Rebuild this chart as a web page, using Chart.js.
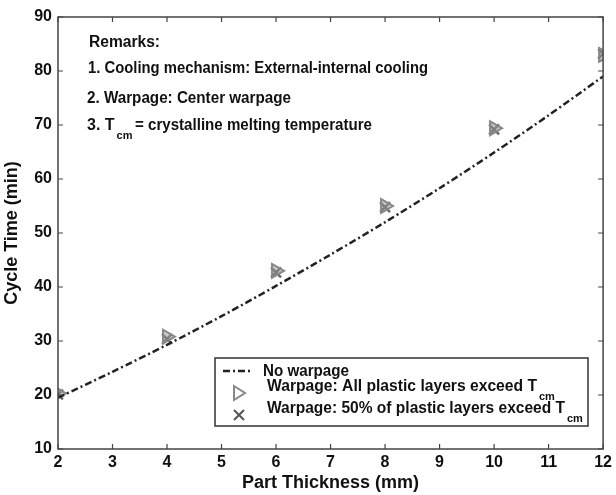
<!DOCTYPE html>
<html>
<head>
<meta charset="utf-8">
<script src="https://cdn.jsdelivr.net/npm/chart.js@4/dist/chart.umd.min.js"></script>
<style>
html, body { margin: 0; padding: 0; background: #fff; }
#wrap { width: 616px; height: 495px; }
</style>
</head>
<body>
<div id="wrap"><canvas id="chart" width="616" height="495"></canvas></div>
<script>
// values
const lineThickness = [2, 3, 4, 5, 6, 7, 8, 9, 10, 11, 12]
const noWarpage = [19.5, 24.3, 29.3, 34.6, 40.2, 46.0, 52.0, 58.3, 64.9, 71.8, 79.0]
const pointThickness = [2, 4, 6, 8, 10, 12]
const allLayers = [20.3, 30.8, 43.0, 55.0, 69.4, 83.0]
const halfLayers = [20.1, 30.4, 42.7, 54.8, 69.2, 83.2]
const xTicks = [2, 3, 4, 5, 6, 7, 8, 9, 10, 11, 12]
const yTicks = [10, 20, 30, 40, 50, 60, 70, 80, 90]
const seriesNames = ['No warpage', 'Warpage: All plastic layers exceed T', 'Warpage: 50% of plastic layers exceed T']
const remarks = ['Remarks:', '1. Cooling mechanism: External-internal cooling', '2. Warpage: Center warpage', '3. T', '= crystalline melting temperature']

const FONT = '"Liberation Sans", Arial, sans-serif'
const INK = '#111'
const AXIS = '#444'
const DASH = [7, 3, 2, 3]

const toPoints = (xs, ys) => xs.map((x, i) => ({ x: x, y: ys[i] }))

const drawSub = (ctx, text, sub, x, y, w) => {
    ctx.font = 'bold 16px ' + FONT
    ctx.fillText(text, x, y, w)
    const tw = Math.min(ctx.measureText(text).width, w || 9999)
    ctx.font = 'bold 11px ' + FONT
    ctx.fillText(sub, x + tw + 2, y + 10)
}

const decor = {
    id: 'decor',
    afterDraw(chart) {
        const { ctx, chartArea: a, scales } = chart
        ctx.save()
        // frame
        ctx.strokeStyle = AXIS
        ctx.lineWidth = 1.5
        ctx.strokeRect(a.left, a.top, a.right - a.left, a.bottom - a.top)
        // inward ticks on all sides
        ctx.lineWidth = 1.2
        ctx.beginPath()
        xTicks.forEach(v => {
            const px = scales.x.getPixelForValue(v)
            ctx.moveTo(px, a.bottom); ctx.lineTo(px, a.bottom - 5)
            ctx.moveTo(px, a.top); ctx.lineTo(px, a.top + 5)
        })
        yTicks.forEach(v => {
            const py = scales.y.getPixelForValue(v)
            ctx.moveTo(a.left, py); ctx.lineTo(a.left + 5, py)
            ctx.moveTo(a.right, py); ctx.lineTo(a.right - 5, py)
        })
        ctx.stroke()

        // remarks
        ctx.fillStyle = INK
        ctx.textBaseline = 'middle'
        ctx.textAlign = 'left'
        ctx.font = 'bold 16px ' + FONT
        ctx.fillText(remarks[0], 89, 43, 71)
        ctx.fillText(remarks[1], 88, 69, 340)
        ctx.fillText(remarks[2], 87, 99, 204)
        drawSub(ctx, remarks[3], 'cm', 87, 126)
        ctx.font = 'bold 16px ' + FONT
        ctx.fillText(remarks[4], 135, 126, 237)

        // legend box
        ctx.fillStyle = '#fff'
        ctx.fillRect(215, 358, 373, 68)
        ctx.strokeStyle = '#333'
        ctx.lineWidth = 1.5
        ctx.strokeRect(215, 358, 373, 68)

        // legend samples
        ctx.strokeStyle = '#222'
        ctx.lineWidth = 2.5
        ctx.setLineDash(DASH)
        ctx.beginPath(); ctx.moveTo(223, 371); ctx.lineTo(252, 371); ctx.stroke()
        ctx.setLineDash([])
        ctx.strokeStyle = '#888'
        ctx.lineWidth = 2
        ctx.beginPath(); ctx.moveTo(234, 386); ctx.lineTo(245, 393); ctx.lineTo(234, 400); ctx.closePath(); ctx.stroke()
        ctx.strokeStyle = '#555'
        ctx.beginPath()
        ctx.moveTo(234, 410); ctx.lineTo(244, 420)
        ctx.moveTo(244, 410); ctx.lineTo(234, 420)
        ctx.stroke()

        // legend text
        ctx.fillStyle = INK
        ctx.font = 'bold 16px ' + FONT
        ctx.fillText(seriesNames[0], 263, 372, 86)
        drawSub(ctx, seriesNames[1], 'cm', 267, 387, 270)
        drawSub(ctx, seriesNames[2], 'cm', 267, 409, 298)
        ctx.restore()
    }
}

new Chart(document.getElementById('chart'), {
    type: 'scatter',
    data: {
        datasets: [
            {
                label: seriesNames[0],
                data: toPoints(lineThickness, noWarpage),
                showLine: true,
                borderColor: '#222',
                borderWidth: 2.5,
                borderDash: DASH,
                pointRadius: 0,
                tension: 0.3
            },
            {
                label: seriesNames[1],
                data: toPoints(pointThickness, allLayers),
                pointStyle: 'triangle',
                rotation: 90,
                pointRadius: 8,
                borderColor: '#888',
                backgroundColor: 'rgba(150,150,150,0.5)',
                borderWidth: 2
            },
            {
                label: seriesNames[2],
                data: toPoints(pointThickness, halfLayers),
                pointStyle: 'crossRot',
                pointRadius: 7,
                borderColor: '#666',
                borderWidth: 2.5
            }
        ]
    },
    options: {
        responsive: false,
        animation: false,
        devicePixelRatio: 1,
        layout: { padding: { left: 0, right: 8, top: 17, bottom: 0 } },
        plugins: { legend: { display: false }, tooltip: { enabled: false } },
        scales: {
            x: {
                type: 'linear',
                min: 2,
                max: 12,
                afterBuildTicks: s => { s.ticks = xTicks.map(v => ({ value: v })) },
                afterFit: s => { s.height = 46 },
                grid: { display: false, drawTicks: false },
                border: { display: false },
                ticks: { color: INK, font: { family: FONT, size: 16, weight: 'bold' }, padding: 4, maxRotation: 0 },
                title: { display: true, text: 'Part Thickness (mm)', color: INK, font: { family: FONT, size: 18, weight: 'bold' }, padding: { top: 0, bottom: 1 } }
            },
            y: {
                min: 10,
                max: 90,
                afterBuildTicks: s => { s.ticks = yTicks.map(v => ({ value: v })) },
                afterFit: s => { s.width = 58 },
                grid: { display: false, drawTicks: false },
                border: { display: false },
                ticks: { color: INK, font: { family: FONT, size: 16, weight: 'bold' }, padding: 6 },
                title: { display: true, text: 'Cycle Time (min)', color: INK, font: { family: FONT, size: 18, weight: 'bold' }, padding: { top: 1, bottom: 0 } }
            }
        }
    },
    plugins: [decor]
})
</script>
</body>
</html>
